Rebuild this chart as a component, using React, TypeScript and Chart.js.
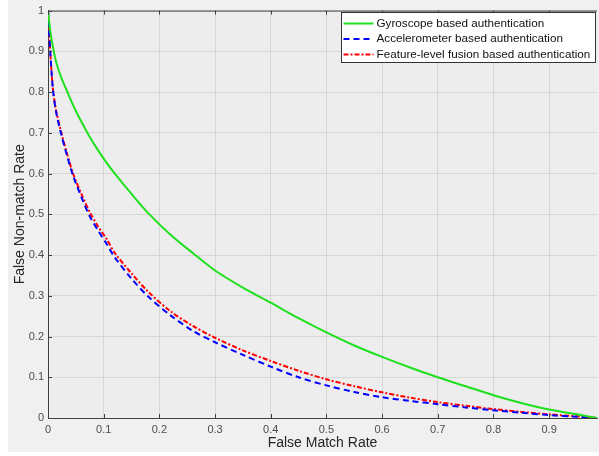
import React, { useEffect, useRef } from "react";
import { Chart, registerables } from "chart.js";

Chart.register(...registerables);

const FMR = [0, 0.004, 0.009, 0.015, 0.024, 0.035, 0.045, 0.06, 0.075, 0.09, 0.105, 0.12, 0.15, 0.18, 0.22, 0.26, 0.3, 0.35, 0.4, 0.45, 0.5, 0.55, 0.6, 0.65, 0.7, 0.75, 0.8, 0.85, 0.9, 0.95, 0.986];
const GYRO = [1.0, 0.95, 0.91, 0.872, 0.835, 0.8, 0.768, 0.727, 0.69, 0.657, 0.627, 0.6, 0.55, 0.503, 0.45, 0.405, 0.362, 0.32, 0.283, 0.245, 0.21, 0.178, 0.15, 0.124, 0.1, 0.078, 0.056, 0.037, 0.021, 0.009, 0.0];
const ACCEL = [1.0, 0.9, 0.805, 0.748, 0.695, 0.64, 0.595, 0.542, 0.495, 0.46, 0.428, 0.394, 0.342, 0.298, 0.252, 0.214, 0.186, 0.155, 0.126, 0.1, 0.08, 0.064, 0.051, 0.042, 0.034, 0.026, 0.019, 0.013, 0.007, 0.003, 0.0];
const FUSION = [1.0, 0.9, 0.805, 0.752, 0.7, 0.645, 0.6, 0.55, 0.505, 0.47, 0.44, 0.405, 0.355, 0.31, 0.262, 0.226, 0.197, 0.166, 0.14, 0.116, 0.095, 0.078, 0.063, 0.05, 0.039, 0.03, 0.022, 0.015, 0.009, 0.004, 0.0];
const SERIES_LABELS = [
  "Gyroscope based authentication",
  "Accelerometer based authentication",
  "Feature-level fusion based authentication",
];
const X_TITLE = "False Match Rate";
const Y_TITLE = "False Non-match Rate";

const FONT = "'Liberation Sans', Arial, Helvetica, sans-serif";
const AXIS_COLOR = "#404040";

const toPoints = (ys: number[]) => FMR.map((x, i) => ({ x, y: ys[i] }));

const fmt = (v: number) => {
  const r = Math.round(v * 10) / 10;
  return r === 0 ? "0" : r === 1 ? "1" : String(r);
};

const bgPlugin = {
  id: "plotBg",
  beforeDraw(chart: any) {
    const { ctx, chartArea } = chart;
    ctx.save();
    ctx.fillStyle = "#ededed";
    ctx.fillRect(chartArea.left, chartArea.top, chartArea.right - chartArea.left, chartArea.bottom - chartArea.top);
    ctx.restore();
  },
};

const innerTicksPlugin = {
  id: "innerTicks",
  afterDatasetsDraw(chart: any) {
    const { ctx, chartArea, scales } = chart;
    const len = 4;
    ctx.save();
    ctx.strokeStyle = AXIS_COLOR;
    ctx.lineWidth = 1;
    ctx.beginPath();
    ctx.moveTo(chartArea.left, chartArea.top + 0.5);
    ctx.lineTo(chartArea.right, chartArea.top + 0.5);
    scales.x.ticks.forEach((t: any) => {
      const px = Math.round(scales.x.getPixelForValue(t.value)) + 0.5;
      ctx.moveTo(px, chartArea.bottom);
      ctx.lineTo(px, chartArea.bottom - len);
      ctx.moveTo(px, chartArea.top);
      ctx.lineTo(px, chartArea.top + len);
    });
    scales.y.ticks.forEach((t: any) => {
      const py = Math.round(scales.y.getPixelForValue(t.value)) + 0.5;
      ctx.moveTo(chartArea.left, py);
      ctx.lineTo(chartArea.left + len, py);
    });
    ctx.stroke();
    ctx.restore();
  },
};

const legendPlugin = {
  id: "boxLegend",
  afterDraw(chart: any) {
    const { ctx } = chart;
    const x0 = 333.5, y0 = 12.5, w = 254, h = 50;
    ctx.save();
    ctx.fillStyle = "#ffffff";
    ctx.fillRect(x0, y0, w, h);
    ctx.strokeStyle = "#333333";
    ctx.lineWidth = 1;
    ctx.strokeRect(x0, y0, w, h);
    const rows = [23.5, 39, 54.5];
    chart.data.datasets.forEach((ds: any, i: number) => {
      const y = rows[i];
      ctx.strokeStyle = ds.borderColor;
      ctx.lineWidth = ds.borderWidth;
      ctx.setLineDash(ds.borderDash || []);
      ctx.beginPath();
      ctx.moveTo(x0 + 2, y);
      ctx.lineTo(x0 + 32, y);
      ctx.stroke();
      ctx.setLineDash([]);
      ctx.fillStyle = "#111111";
      ctx.font = `11.7px ${FONT}`;
      ctx.textBaseline = "middle";
      ctx.textAlign = "left";
      ctx.fillText(ds.label, x0 + 35, y);
    });
    ctx.restore();
  },
};

export default function App() {
  const ref = useRef<HTMLCanvasElement | null>(null);

  useEffect(() => {
    if (!ref.current) return;
    const chart = new Chart(ref.current, {
      type: "line",
      data: {
        datasets: [
          {
            label: SERIES_LABELS[0],
            data: toPoints(GYRO),
            borderColor: "#1ee01e",
            borderWidth: 2,
            pointRadius: 0,
            tension: 0.3,
          },
          {
            label: SERIES_LABELS[1],
            data: toPoints(ACCEL),
            borderColor: "#0000ff",
            borderWidth: 2,
            borderDash: [6, 4],
            pointRadius: 0,
            tension: 0.3,
          },
          {
            label: SERIES_LABELS[2],
            data: toPoints(FUSION),
            borderColor: "#ff0000",
            borderWidth: 2,
            borderDash: [5, 2, 2, 2],
            pointRadius: 0,
            tension: 0.3,
          },
        ],
      },
      options: {
        responsive: false,
        animation: false,
        layout: { padding: { top: 6, right: 2, left: 0, bottom: 0 } },
        plugins: {
          legend: { display: false },
          tooltip: { enabled: false },
        },
        scales: {
          x: {
            type: "linear",
            min: 0,
            max: 0.986,
            afterFit: (s: any) => {
              s.height = 34;
            },
            ticks: {
              stepSize: 0.1,
              includeBounds: false,
              padding: 5,
              maxRotation: 0,
              color: "#4d4d4d",
              font: { family: FONT, size: 11 },
              callback: (v: any) => fmt(Number(v)),
            },
            grid: { color: "#d6d6d6", drawTicks: false },
            border: { display: true, color: AXIS_COLOR, width: 1 },
            title: {
              display: true,
              text: X_TITLE,
              color: "#262626",
              font: { family: FONT, size: 14 },
              padding: { top: 0, bottom: 0 },
            },
          },
          y: {
            type: "linear",
            min: 0,
            max: 1,
            afterFit: (s: any) => {
              s.width = 40;
            },
            ticks: {
              stepSize: 0.1,
              padding: 4,
              color: "#4d4d4d",
              font: { family: FONT, size: 11 },
              callback: (v: any) => fmt(Number(v)),
            },
            grid: { color: "#d6d6d6", drawTicks: false },
            border: { display: true, color: AXIS_COLOR, width: 1 },
            title: {
              display: true,
              text: Y_TITLE,
              color: "#262626",
              font: { family: FONT, size: 14 },
              padding: { top: 4, bottom: 0 },
            },
          },
        },
      },
      plugins: [bgPlugin, innerTicksPlugin, legendPlugin],
    } as any);
    return () => chart.destroy();
  }, []);

  return (
    <div
      style={{
        position: "fixed",
        left: 8,
        top: 0,
        width: 591,
        height: 452,
        background: "#f0f0f0",
      }}
    >
      <canvas ref={ref} width={591} height={452} style={{ display: "block", width: 591, height: 452 }} />
    </div>
  );
}
